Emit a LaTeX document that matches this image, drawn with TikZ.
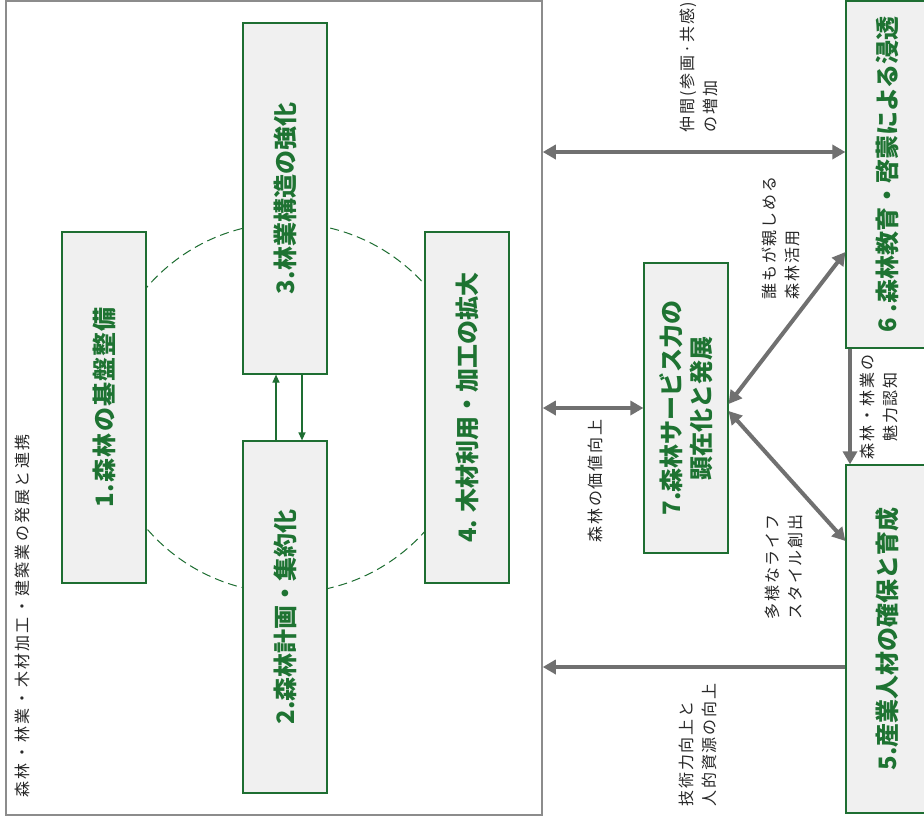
\documentclass[tikz,border=0pt]{standalone}
\usepackage{fontspec}
\newfontfamily\cjk{Noto Sans CJK JP}
\newfontfamily\cjkls[LetterSpace=12]{Noto Sans CJK JP}
\newfontfamily\cjkfr[LetterSpace=14]{Noto Sans CJK JP}
\newfontfamily\cjkwide[LetterSpace=5]{Noto Sans CJK JP}
\usetikzlibrary{arrows.meta}
\definecolor{gline}{RGB}{30,110,50}
\definecolor{gtext}{RGB}{30,115,50}
\definecolor{boxfill}{RGB}{240,240,240}
\definecolor{arrgray}{RGB}{112,112,112}
\definecolor{framegray}{RGB}{140,140,140}
\definecolor{txt}{RGB}{40,40,40}
\begin{document}
\begin{tikzpicture}[x=1pt,y=-1pt,
  box/.style={draw=gline, fill=boxfill, line width=1.2pt, minimum width=84pt, inner sep=0pt},
  boxlabel/.style={rotate=90, text=gtext, font=\cjk\bfseries\fontsize{24}{30}\selectfont, align=center, inner sep=0pt},
  graylabel/.style={rotate=90, text=txt, font=\cjkls\fontsize{16}{23}\selectfont, inner sep=0pt},
  garrow/.style={draw=gline, line width=1.2pt, -{Triangle[length=8pt,width=7pt]}},
  dblarrow/.style={draw=arrgray, line width=4pt, {Triangle[length=13pt,width=14pt]}-{Triangle[length=13pt,width=14pt]}},
  sglarrow/.style={draw=arrgray, line width=4pt, -{Triangle[length=13pt,width=14pt]}}
]
\useasboundingbox (0,0) rectangle (924,827);
\clip (0,0) rectangle (924,827);
\fill[white] (0,0) rectangle (924,827);

% outer frame
\node[draw=framegray, line width=1.5pt, minimum width=536pt, minimum height=814pt, inner sep=0pt] (fr) at (274,408) {};
\node[graylabel, font=\cjkfr\fontsize{16}{23}\selectfont] (frl) at (22,616) {森林・林業・木材加工・建築業の発展と連携};

% dashed circle
\draw[gline, line width=1pt, dash pattern=on 9pt off 5pt] (287,408) circle[radius=185pt];

% boxes
\node[box, minimum height=351pt] (b1) at (104,407.5) {};
\node[box, minimum height=351pt] (b3) at (285,198.5) {};
\node[box, minimum height=352pt] (b2) at (285,617) {};
\node[box, minimum height=351pt] (b4) at (467,407.5) {};
\node[box, minimum height=290pt] (b7) at (686,408) {};
\node[box, minimum height=347pt] (b6) at (888,174.5) {};
\node[box, minimum height=348pt] (b5) at (888,639) {};

\node[boxlabel, font=\cjkwide\bfseries\fontsize{24}{30}\selectfont] (t1) at (b1.center) {1.森林の基盤整備};
\node[boxlabel] (t3) at (b3.center) {3.林業構造の強化};
\node[boxlabel] (t2) at (b2.center) {2.森林計画・集約化};
\node[boxlabel] (t4) at (b4.center) {4. 木材利用・加工の拡大};
\node[boxlabel] (t7) at (b7.center) {7.森林サービス力の\\顕在化と発展};
\node[boxlabel] (t6) at ([xshift=-1pt]b6.center) {6 .森林教育・啓蒙による浸透};
\node[boxlabel] (t5) at ([xshift=-1pt]b5.center) {5.産業人材の確保と育成};

% green arrows between 2 and 3
\coordinate (cu) at (276,0);
\coordinate (cd) at (302,0);
\draw[garrow] (cu |- b2.north) -- (cu |- b3.south);
\draw[garrow] (cd |- b3.south) -- (cd |- b2.north);

% gray arrows
\coordinate (ya) at (0,152);
\draw[dblarrow] (fr.east |- ya) -- (b6.west |- ya);
\draw[dblarrow] (fr.east |- b7.west) -- (b7.west);
\coordinate (y3) at (0,252);
\draw[dblarrow] ([yshift=4pt]b7.east) -- (b6.west |- y3);
\coordinate (y4) at (0,541);
\draw[dblarrow] ([yshift=-3pt]b7.east) -- (b5.west |- y4);
\coordinate (y5) at (0,667);
\draw[sglarrow] (b5.west |- y5) -- (fr.east |- y5);
\coordinate (x6) at (850,0);
\draw[sglarrow] (x6 |- b6.south) -- (x6 |- b5.north);

% arrow labels
\node[graylabel, align=left, anchor=west] (l1) at (699,133) {仲間(参画·共感)\\の増加};
\node[graylabel] (l2) at (595,481) {森林の価値向上};
\node[graylabel, align=left, anchor=west] (l3) at (781,300) {誰もが親しめる\\森林活用};
\node[graylabel, align=left, anchor=west] (l4) at (784,620) {多様なライフ\\スタイル創出};
\node[graylabel, align=left, anchor=west] (l5) at (698,807) {技術力向上と\\人的資源の向上};
\node[graylabel, align=center] (l6) at (879,407) {森林・林業の\\魅力認知};
\end{tikzpicture}
\end{document}
